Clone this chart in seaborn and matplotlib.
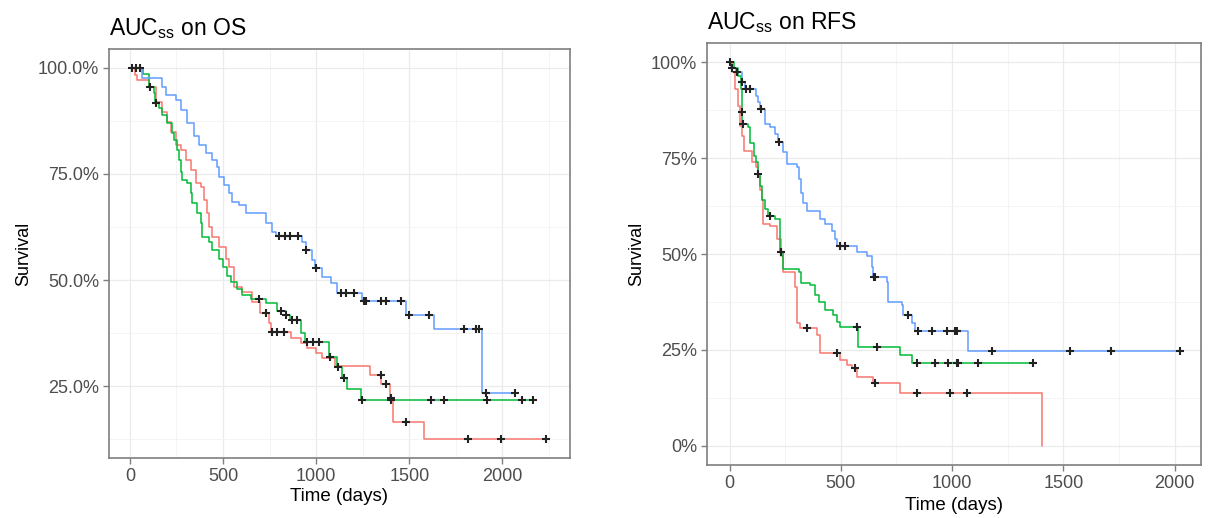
import numpy as np
import pandas as pd
import matplotlib
matplotlib.use("Agg")
import matplotlib.pyplot as plt
import seaborn as sns
from matplotlib.ticker import PercentFormatter, MultipleLocator, FixedLocator

# ---------------- data ----------------
groups = ["Low", "Medium", "High"]
palette = {"Low": "#F8766D", "Medium": "#00BA38", "High": "#619CFF"}

# --- OS panel ---
os_red_t = [0, 25, 40, 100, 140, 172, 198, 220, 247, 274, 300, 328, 355, 381, 397, 413, 424, 440, 478,
            515, 531, 558, 601, 655, 700, 746, 757, 864, 918, 950, 998, 1030, 1100, 1290, 1350, 1395,
            1415, 1580, 2250]
os_red_s = [1.0, 0.983, 0.97, 0.955, 0.92, 0.896, 0.873, 0.849, 0.818, 0.806, 0.783, 0.759, 0.728, 0.72,
            0.689, 0.658, 0.625, 0.601, 0.578, 0.55, 0.531, 0.483, 0.472, 0.448, 0.422, 0.398, 0.377,
            0.363, 0.351, 0.34, 0.328, 0.316, 0.297, 0.276, 0.255, 0.222, 0.165, 0.125, 0.125]
os_red_cens = [730, 762, 790, 827, 1347, 1374, 1401, 1480, 1815, 1995, 2235]

os_green_t = [0, 70, 100, 128, 135, 155, 172, 198, 225, 236, 252, 263, 274, 280, 306, 328, 333, 360, 381,
              387, 424, 440, 478, 500, 521, 543, 575, 602, 650, 730, 790, 837, 860, 918, 940, 1068, 1110,
              1137, 1164, 1240, 2165]
os_green_s = [1.0, 0.985, 0.955, 0.94, 0.917, 0.905, 0.889, 0.87, 0.847, 0.83, 0.806, 0.783, 0.755, 0.736,
              0.729, 0.705, 0.682, 0.658, 0.634, 0.601, 0.59, 0.571, 0.55, 0.53, 0.51, 0.495, 0.48, 0.465,
              0.455, 0.445, 0.427, 0.417, 0.405, 0.375, 0.355, 0.318, 0.295, 0.269, 0.243, 0.217, 0.217]
os_green_cens = [107, 140, 692, 810, 840, 870, 895, 950, 985, 1015, 1075, 1118, 1148, 1245, 1401, 1616,
                 1685, 1916, 2104, 2163]

os_blue_t = [0, 65, 172, 196, 247, 274, 306, 344, 370, 408, 440, 467, 478, 505, 532, 548, 585, 623, 730,
             762, 784, 923, 945, 977, 995, 1030, 1078, 1110, 1245, 1480, 1632, 1890, 2070]
os_blue_s = [1.0, 0.975, 0.955, 0.936, 0.925, 0.90, 0.87, 0.84, 0.818, 0.80, 0.783, 0.767, 0.743, 0.724,
             0.705, 0.684, 0.677, 0.658, 0.634, 0.613, 0.604, 0.590, 0.571, 0.547, 0.528, 0.507, 0.493,
             0.470, 0.450, 0.417, 0.384, 0.233, 0.233]
os_blue_cens = [10, 30, 55, 800, 830, 860, 900, 948, 1000, 1132, 1160, 1202, 1256, 1268, 1347, 1374, 1455,
                1497, 1605, 1793, 1857, 1873, 1911, 2067]

# --- RFS panel ---
rfs_red_t = [0, 10, 25, 40, 48, 58, 63, 103, 117, 130, 139, 148, 150, 184, 215, 229, 238, 296, 305, 318,
             395, 408, 498, 529, 552, 574, 646, 767, 1404]
rfs_red_s = [1.0, 0.975, 0.93, 0.885, 0.833, 0.807, 0.768, 0.739, 0.728, 0.702, 0.668, 0.642, 0.577,
             0.572, 0.538, 0.494, 0.454, 0.415, 0.321, 0.308, 0.29, 0.243, 0.225, 0.211, 0.204, 0.18,
             0.164, 0.138, 0.0]
rfs_red_cens = [350, 484, 565, 652, 843, 991, 1067]

rfs_green_t = [0, 20, 40, 52, 56, 58, 85, 94, 108, 117, 128, 139, 148, 161, 175, 206, 226, 238, 310, 319,
               363, 386, 400, 430, 466, 484, 498, 578, 767, 820, 1363]
rfs_green_s = [1.0, 0.985, 0.963, 0.93, 0.87, 0.838, 0.83, 0.79, 0.755, 0.739, 0.708, 0.676, 0.642,
               0.616, 0.598, 0.59, 0.504, 0.46, 0.454, 0.425, 0.42, 0.394, 0.376, 0.355, 0.342, 0.324,
               0.311, 0.258, 0.238, 0.217, 0.217]
rfs_green_cens = [57, 60, 130, 184, 229, 232, 574, 664, 843, 924, 982, 1022, 1027, 1117, 1363]

rfs_blue_t = [0, 8, 30, 55, 70, 117, 130, 139, 161, 184, 206, 220, 238, 260, 305, 310, 319, 332, 350, 408,
              431, 462, 475, 485, 574, 619, 641, 646, 709, 713, 776, 780, 821, 834, 1072, 2022]
rfs_blue_s = [1.0, 0.984, 0.974, 0.948, 0.93, 0.911, 0.895, 0.877, 0.838, 0.83, 0.812, 0.791, 0.765,
              0.734, 0.726, 0.695, 0.66, 0.634, 0.611, 0.59, 0.577, 0.559, 0.538, 0.52, 0.506, 0.494,
              0.467, 0.441, 0.428, 0.376, 0.368, 0.342, 0.321, 0.30, 0.248, 0.248]
rfs_blue_cens = [4, 10, 35, 58, 72, 94, 141, 222, 498, 520, 648, 652, 803, 848, 910, 977, 1013, 1022,
                 1179, 1529, 1713, 2022]

x_ticks = [0, 500, 1000, 1500, 2000]
y_ticks = [0.0, 0.25, 0.5, 0.75, 1.0]


def build(curves):
    lines, cens = [], []
    for g, (t, s, c) in zip(groups, curves):
        t = np.asarray(t, float)
        s = np.asarray(s, float)
        lines.append(pd.DataFrame({"time": t, "surv": s, "group": g}))
        c = np.asarray(c, float)
        idx = np.searchsorted(t, c, side="right") - 1
        cens.append(pd.DataFrame({"time": c, "surv": s[idx], "group": g}))
    return pd.concat(lines, ignore_index=True), pd.concat(cens, ignore_index=True)


os_lines, os_cens = build([(os_red_t, os_red_s, os_red_cens),
                           (os_green_t, os_green_s, os_green_cens),
                           (os_blue_t, os_blue_s, os_blue_cens)])
rfs_lines, rfs_cens = build([(rfs_red_t, rfs_red_s, rfs_red_cens),
                             (rfs_green_t, rfs_green_s, rfs_green_cens),
                             (rfs_blue_t, rfs_blue_s, rfs_blue_cens)])

# ---------------- styling ----------------
sns.set_theme(style="white")
plt.rcParams["font.family"] = ["Liberation Sans", "DejaVu Sans"]
plt.rcParams["mathtext.fontset"] = "custom"
plt.rcParams["mathtext.rm"] = "Liberation Sans"
plt.rcParams["mathtext.it"] = "Liberation Sans:italic"
plt.rcParams["mathtext.bf"] = "Liberation Sans:bold"

fig = plt.figure(figsize=(12.08, 5.18), dpi=100)
ax1 = fig.add_axes([0.0902, 0.1158, 0.3816, 0.7896])
ax2 = fig.add_axes([0.5853, 0.1023, 0.4089, 0.8147])


def draw(ax, lines, cens, title, xlim, ylim, decimals, yt, xpad):
    sns.lineplot(data=lines, x="time", y="surv", hue="group", palette=palette, estimator=None,
                 drawstyle="steps-post", linewidth=1.1, legend=False, ax=ax, zorder=2)
    sns.scatterplot(data=cens, x="time", y="surv", marker="+", color="#222222", s=30,
                    linewidth=1.5, legend=False, ax=ax, zorder=3)
    ax.set_xlim(*xlim)
    ax.set_ylim(*ylim)
    ax.xaxis.set_major_locator(FixedLocator(x_ticks))
    ax.xaxis.set_minor_locator(MultipleLocator(250))
    ax.yaxis.set_major_locator(FixedLocator(yt))
    ax.yaxis.set_minor_locator(MultipleLocator(0.125))
    ax.yaxis.set_major_formatter(PercentFormatter(1.0, decimals=decimals))
    ax.grid(which="major", color="#EBEBEB", linewidth=0.9, zorder=0)
    ax.grid(which="minor", color="#F3F3F3", linewidth=0.6, zorder=0)
    ax.set_axisbelow(True)
    for sp in ax.spines.values():
        sp.set_color("#7F7F7F")
        sp.set_linewidth(1.2)
    ax.tick_params(which="major", direction="out", length=4, width=1.0, color="#7F7F7F",
                   labelsize=13, labelcolor="#4D4D4D", pad=3, bottom=True, left=True)
    ax.tick_params(which="minor", length=0)
    ax.set_xlabel("Time (days)", fontsize=13.5, color="black", labelpad=xpad)
    ax.set_ylabel("Survival", fontsize=13, color="black", labelpad=4)
    ax.set_title(title, loc="left", fontsize=16.5, color="black", pad=10)


draw(ax1, os_lines, os_cens, r"AUC$_{\mathrm{ss}}$ on OS", (-112.5, 2362.5), (0.081, 1.044), 1,
     [0.25, 0.5, 0.75, 1.0], 2)
draw(ax2, rfs_lines, rfs_cens, r"AUC$_{\mathrm{ss}}$ on RFS", (-101, 2118), (-0.05, 1.05), 0, y_ticks, 4)

fig.savefig("out.png", dpi=100)
